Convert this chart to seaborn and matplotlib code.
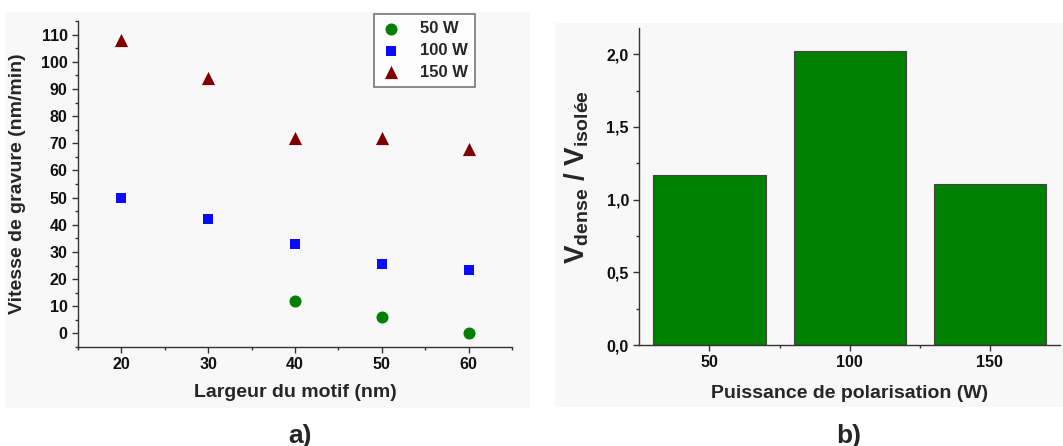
import numpy as np
import pandas as pd
import seaborn as sns
import matplotlib
matplotlib.use("Agg")
import matplotlib.pyplot as plt
from matplotlib.patches import Rectangle
from matplotlib.ticker import FixedLocator, FixedFormatter, MultipleLocator

# ---- data ----
widths = [20, 30, 40, 50, 60]
v50 = [np.nan, np.nan, 12, 6, 0]
v100 = [50, 42, 33, 25.5, 23.5]
v150 = [108, 94, 72, 72, 68]
series_labels = ["50 W", "100 W", "150 W"]

powers = ["50", "100", "150"]
ratio = [1.17, 2.02, 1.11]

y_ticks_a = [0, 10, 20, 30, 40, 50, 60, 70, 80, 90, 100, 110]
x_ticks_a = [20, 30, 40, 50, 60]
y_ticks_b = [0.0, 0.5, 1.0, 1.5, 2.0]
y_ticklabels_b = ["0,0", "0,5", "1,0", "1,5", "2,0"]

# ---- style ----
sns.set_theme(style="ticks")
plt.rcParams['font.family'] = ['Liberation Sans', 'DejaVu Sans']
plt.rcParams['font.weight'] = 'bold'
plt.rcParams['mathtext.fontset'] = 'custom'
plt.rcParams['mathtext.rm'] = 'Liberation Sans:bold'
plt.rcParams['mathtext.bf'] = 'Liberation Sans:bold'
plt.rcParams['mathtext.it'] = 'Liberation Sans:bold'
plt.rcParams['mathtext.default'] = 'regular'

W, H = 1063, 446
fig = plt.figure(figsize=(W / 100, H / 100), dpi=100)
fig.patch.set_facecolor("white")

# faint background panels
fig.patches.append(Rectangle((5 / W, 1 - 408 / H), (530 - 5) / W, (408 - 12) / H,
                             transform=fig.transFigure, facecolor="#f8f8f8",
                             edgecolor="none", zorder=-10))
fig.patches.append(Rectangle((555 / W, 1 - 407 / H), (1063 - 555) / W, (407 - 23) / H,
                             transform=fig.transFigure, facecolor="#f8f8f8",
                             edgecolor="none", zorder=-10))

axa = fig.add_axes([78 / W, 1 - 347 / H, (512 - 78) / W, (347 - 21) / H])
axb = fig.add_axes([639.3 / W, 1 - 345 / H, (1060 - 639.3) / W, (345 - 28) / H])
for ax in (axa, axb):
    ax.set_facecolor("none")

df = pd.DataFrame({"x": widths, "50 W": v50, "100 W": v100, "150 W": v150})
sns.scatterplot(x=df["x"], y=df["50 W"], ax=axa, color="#008000", marker="o",
                s=75, linewidth=0, label=series_labels[0])
sns.scatterplot(x=df["x"], y=df["100 W"], ax=axa, color="#0a0aff", marker="s",
                s=50, linewidth=0, label=series_labels[1])
sns.scatterplot(x=df["x"], y=df["150 W"], ax=axa, color="#800000", marker="^",
                s=90, linewidth=0, label=series_labels[2])

axa.set_xlim(15, 65)
axa.set_ylim(-5, 115)
axa.xaxis.set_major_locator(FixedLocator(x_ticks_a))
axa.xaxis.set_minor_locator(FixedLocator([15, 25, 35, 45, 55, 65]))
axa.yaxis.set_major_locator(FixedLocator(y_ticks_a))
axa.yaxis.set_minor_locator(MultipleLocator(5))
axa.set_xlabel("Largeur du motif (nm)", fontsize=14, fontweight="bold")
axa.set_ylabel("Vitesse de gravure (nm/min)", fontsize=14, fontweight="bold")
axa.xaxis.set_label_coords(0.5, -0.115)
axa.yaxis.set_label_coords(-0.12, 0.5)

leg = axa.legend(loc="upper right", bbox_to_anchor=(0.915, 1.022), frameon=True,
                 fancybox=False, edgecolor="#555555", fontsize=12,
                 handletextpad=1.1, borderpad=0.45, labelspacing=0.4,
                 handlelength=1.2, borderaxespad=0)
leg.get_frame().set_linewidth(1.2)
leg.get_frame().set_facecolor("white")
for t in leg.get_texts():
    t.set_fontweight("bold")

# ---- panel b ----
dfb = pd.DataFrame({"p": powers, "r": ratio})
sns.barplot(data=dfb, x="p", y="r", ax=axb, order=powers, color="#007f00",
            saturation=1, width=0.8, edgecolor="#444444", linewidth=0.8)
axb.set_xlim(-0.5, 2.5)
axb.set_ylim(0, 2.18)
axb.yaxis.set_major_locator(FixedLocator(y_ticks_b))
axb.yaxis.set_major_formatter(FixedFormatter(y_ticklabels_b))
axb.yaxis.set_minor_locator(MultipleLocator(0.25))
axb.xaxis.set_minor_locator(FixedLocator([0.5, 1.5]))
axb.set_xlabel("Puissance de polarisation (W)", fontsize=14, fontweight="bold")
axb.set_ylabel(r"$\mathrm{V_{dense}}$ / $\mathrm{V_{isolée}}$", fontsize=20,
               fontweight="bold")
axb.xaxis.set_label_coords(0.5, -0.125)
axb.yaxis.set_label_coords(-0.115, 0.53)

for ax in (axa, axb):
    sns.despine(ax=ax)
    for side in ("left", "bottom"):
        ax.spines[side].set_color("#333333")
        ax.spines[side].set_linewidth(1.0)
    ax.tick_params(which="major", direction="out", length=4.5, width=1.0,
                   color="#333333", labelsize=11.5, pad=3)
    ax.tick_params(which="minor", direction="out", length=2.5, width=1.0,
                   color="#333333")
    for lab in ax.get_xticklabels() + ax.get_yticklabels():
        lab.set_fontweight("bold")
        lab.set_color("#111111")

fig.text(300 / W, 1 - 436 / H, "a)", fontsize=19, fontweight="bold",
         ha="center", va="center")
fig.text(849 / W, 1 - 436 / H, "b)", fontsize=19, fontweight="bold",
         ha="center", va="center")

fig.savefig("out.png", dpi=100)
